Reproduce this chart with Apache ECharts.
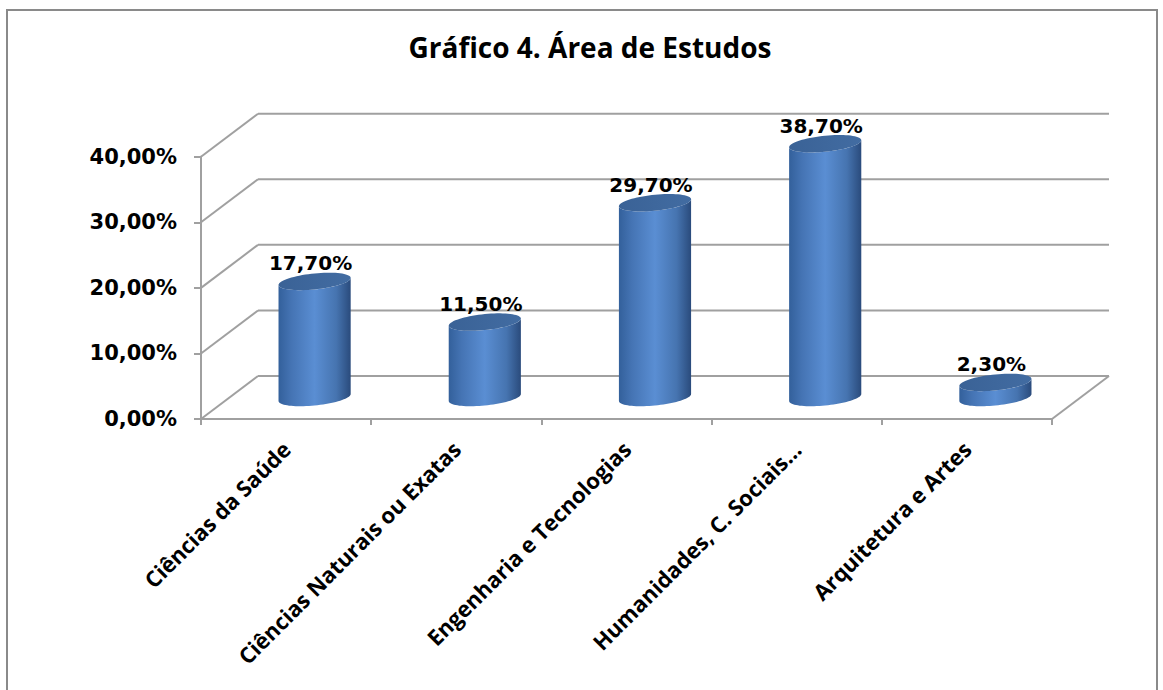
<!DOCTYPE html>
<html>
<head>
<meta charset="utf-8">
<script src="https://cdn.jsdelivr.net/npm/echarts@6/dist/echarts.min.js"></script>
<style>
html,body{margin:0;padding:0;background:#fff;}
#c{width:1163px;height:690px;}
</style>
</head>
<body>
<div id="c"></div>
<script>
// ---- data ----
const titleText = 'Gráfico 4. Área de Estudos';
const categories = ['Ciências da Saúde', 'Ciências Naturais ou Exatas', 'Engenharia e Tecnologias', 'Humanidades, C. Sociais…', 'Arquitetura e Artes'];
const values = [17.7, 11.5, 29.7, 38.7, 2.3];
const yTicks = [0, 10, 20, 30, 40];

// ---- styling constants ----
const DX = 57, DY = -43;          // depth offset of back wall
const GRID_COLOR = '#a0a0a0';
const LABEL_FONT = '"DejaVu Sans", "Noto Sans", sans-serif';

function fmtPct(v) { return v.toFixed(2).replace('.', ',') + '%'; }

const chart = echarts.init(document.getElementById('c'), null, { renderer: 'svg' });

function wallItem(params, api) {
  const cs = params.coordSys;
  const v = api.value(1);
  const p = api.coord([0, v]);
  const y = p[1];
  const x0 = cs.x, x1 = cs.x + cs.width;
  const children = [
    { type: 'line', shape: { x1: x0, y1: y, x2: x0 + DX, y2: y + DY }, style: { stroke: GRID_COLOR, lineWidth: 2 } },
    { type: 'line', shape: { x1: x0 + DX, y1: y + DY, x2: x1 + DX, y2: y + DY }, style: { stroke: GRID_COLOR, lineWidth: 2 } }
  ];
  if (v === yTicks[0]) {
    children.push({ type: 'line', shape: { x1: x1, y1: y, x2: x1 + DX, y2: y + DY }, style: { stroke: GRID_COLOR, lineWidth: 2 } });
  }
  return { type: 'group', children: children };
}

function ellipsePts(cx, cy, R, ry, k, t0, t1, n) {
  const pts = [];
  for (let i = 0; i <= n; i++) {
    const t = t0 + (t1 - t0) * i / n;
    pts.push([cx + R * Math.cos(t), cy - ry * Math.sin(t) - k * Math.cos(t)]);
  }
  return pts;
}

function cylItem(params, api) {
  const idx = api.value(0), v = api.value(1);
  const p0 = api.coord([idx, 0]);
  const p1 = api.coord([idx, v]);
  const band = api.size([1, 0])[0];
  const R = band * 0.212, ry = 8, k = 3.5;
  const cx = p0[0] + DX / 2;
  const by = p0[1] + DY / 2;
  const ty = p1[1] + DY / 2;
  let body = [[cx - R, ty + k]];
  body = body.concat(ellipsePts(cx, by, R, ry, k, Math.PI, 2 * Math.PI, 40));
  body = body.concat(ellipsePts(cx, ty, R, ry, k, 2 * Math.PI, Math.PI, 40));
  const top = ellipsePts(cx, ty, R, ry, k, 0, 2 * Math.PI, 72);
  return {
    type: 'group',
    children: [
      { type: 'polygon', shape: { points: body }, style: {
        fill: new echarts.graphic.LinearGradient(0, 0, 1, 0, [
          { offset: 0, color: '#33609b' },
          { offset: 0.18, color: '#4574b4' },
          { offset: 0.5, color: '#5a8ed3' },
          { offset: 0.8, color: '#4674b0' },
          { offset: 1, color: '#2a4b7c' }
        ]) } },
      { type: 'polygon', shape: { points: top }, style: {
        fill: new echarts.graphic.LinearGradient(0, 0, 1, 0, [
          { offset: 0, color: '#3a6296' },
          { offset: 1, color: '#426ca2' }
        ]) } },
      { type: 'text', style: {
        text: fmtPct(v), x: cx - 4, y: ty - 18, align: 'center', verticalAlign: 'middle',
        font: 'bold 20px ' + LABEL_FONT, fill: '#000' } }
    ]
  };
}

chart.setOption({
  animation: false,
  title: {
    text: titleText, left: 585, top: 28, textAlign: 'center',
    textStyle: { fontFamily: '"Open Sans", sans-serif', fontWeight: 'bold', fontSize: 28, color: '#000' }
  },
  graphic: [
    { type: 'rect', shape: { x: 7, y: 10, width: 1150, height: 700 }, style: { fill: 'none', stroke: '#8a8a8a', lineWidth: 2 }, z: -10 }
  ],
  grid: { left: 201, right: 111, top: 156.7, bottom: 271, containLabel: false },
  xAxis: {
    type: 'category', data: categories,
    axisLine: { lineStyle: { color: GRID_COLOR, width: 2 } },
    axisTick: { show: true, length: 6, lineStyle: { color: GRID_COLOR, width: 2 } },
    axisLabel: { rotate: 45, margin: 26, interval: 0, color: '#000', fontFamily: '"Open Sans", sans-serif', fontWeight: 'bold', fontSize: 22 },
    splitLine: { show: false }
  },
  yAxis: {
    type: 'value', min: yTicks[0], max: yTicks[yTicks.length - 1], interval: 10,
    axisLine: { show: true, lineStyle: { color: GRID_COLOR, width: 2 } },
    axisTick: { show: true, length: 7, lineStyle: { color: GRID_COLOR, width: 2 } },
    axisLabel: { margin: 24, color: '#000', fontFamily: LABEL_FONT, fontWeight: 'bold', fontSize: 21, formatter: v => fmtPct(v) },
    splitLine: { show: false }
  },
  series: [
    { type: 'custom', renderItem: wallItem, data: yTicks.map(v => [0, v]), z: 1, silent: true, clip: false },
    { type: 'custom', renderItem: cylItem, data: values.map((v, i) => [i, v]), z: 5, clip: false }
  ]
});
</script>
</body>
</html>
